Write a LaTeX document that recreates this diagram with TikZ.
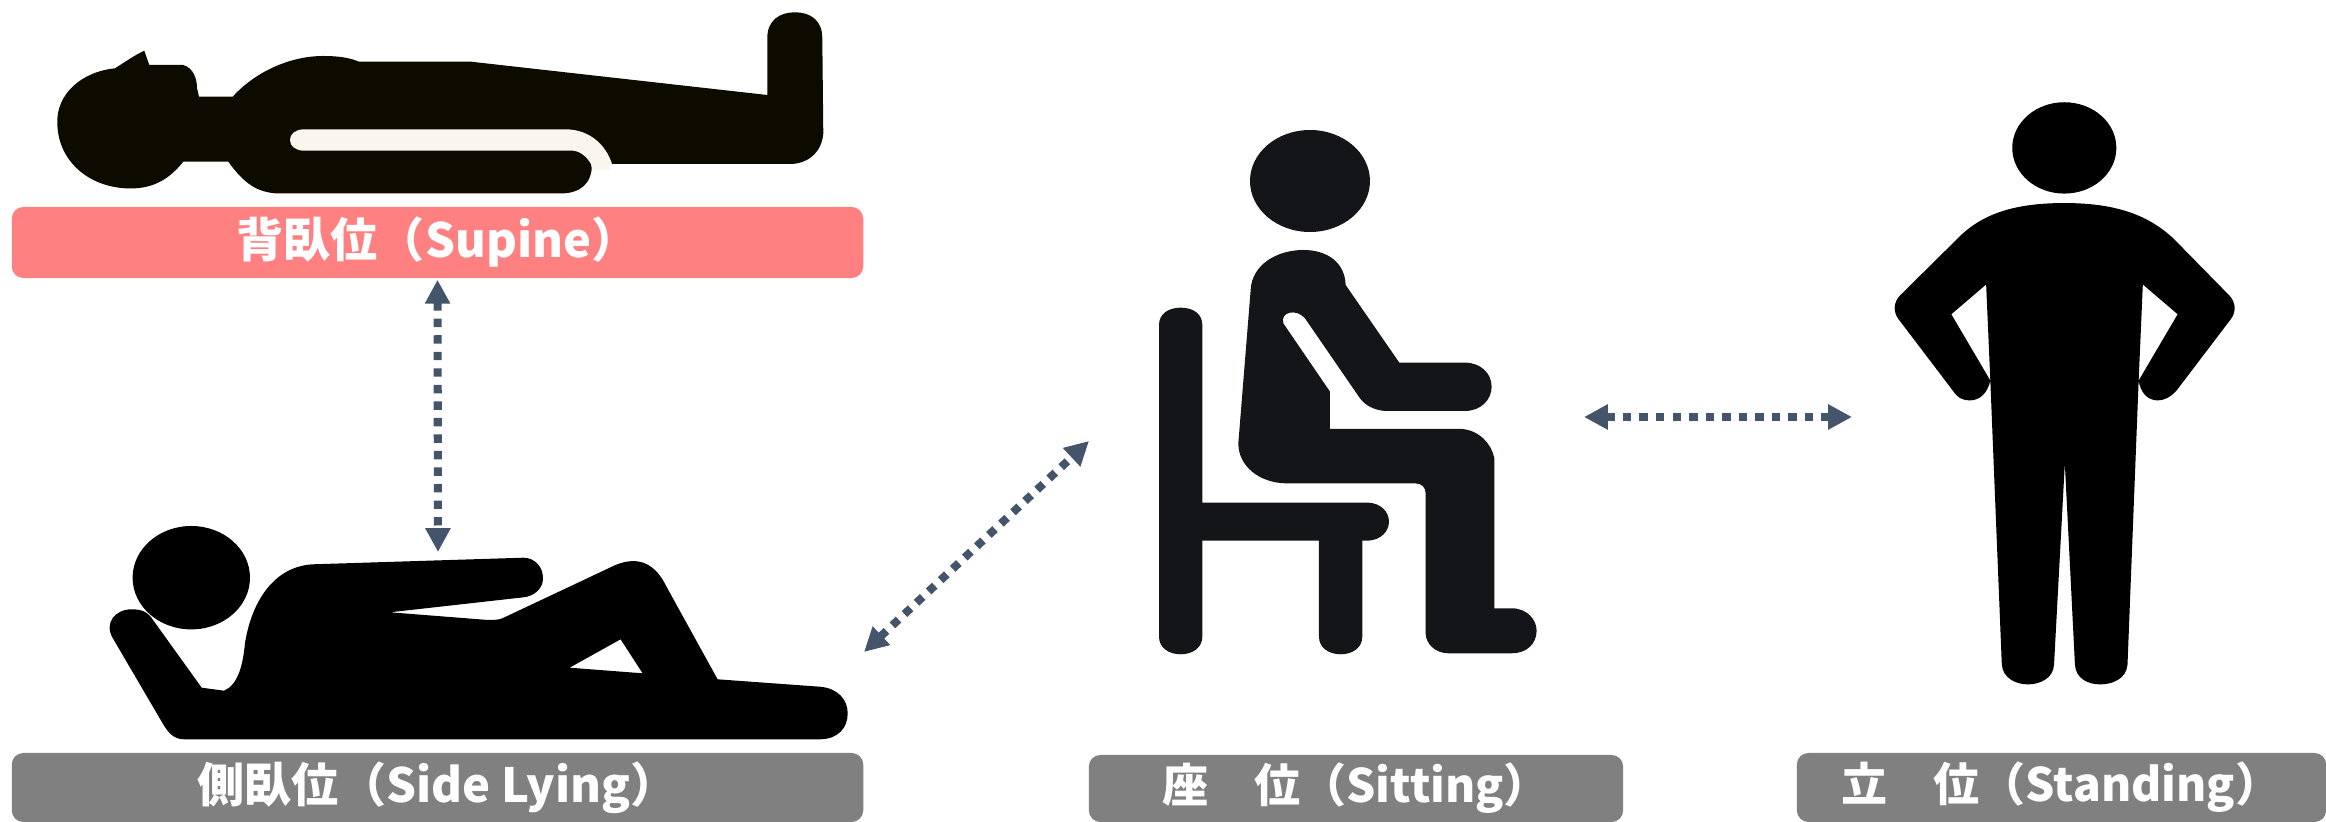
\documentclass[tikz,border=0pt]{standalone}
\usepackage{fontspec}
\usepackage{xcolor}
\usetikzlibrary{arrows.meta, positioning}
\newfontfamily\jpfont{Noto Sans CJK JP}
\definecolor{barpink}{HTML}{FF8080}
\definecolor{bargray}{HTML}{808080}
\definecolor{arrowblue}{HTML}{44546A}
\definecolor{figdark}{HTML}{0D0B00}
\definecolor{figsit}{HTML}{141518}
\definecolor{stripcol}{HTML}{FAF6EE}
\tikzset{
    posturebar/.style={fill=bargray, text=white, rounded corners=3.3pt, inner sep=0pt,
        font=\jpfont\bfseries\fontsize{13.1}{15}\selectfont},
    lyingbar/.style={posturebar, minimum width=8.51cm,
        font=\jpfont\bfseries\fontsize{13.4}{15}\selectfont},
    moveline/.style={<->, arrowblue, line width=2.3pt, dash pattern=on 2.4pt off 2.3pt}
}

\begin{document}
\begin{tikzpicture}[x=0.01cm, y=-0.01cm, >={Triangle[length=6.8pt, width=6.8pt]}]
    \useasboundingbox (0,0) rectangle (2326,822);

    % --- supine figure ---
    \fill[figdark] (144.3,50.7) -- (149.3,65) -- (183.3,65) .. controls (193,68) and (197,78) .. (197,88)
        -- (199,96.7) -- (232.7,96.7) .. controls (255,72) and (290,56) .. (323,56)
        .. controls (340,56) and (350,58) .. (359,61.7) -- (471,61.7) -- (767.3,95) -- (767.3,38)
        .. controls (767.3,20) and (780,12.3) .. (795,12.3) .. controls (810,12.3) and (822.3,20) .. (822.3,38)
        -- (823.3,133.3) .. controls (822,152) and (808,164) .. (790,164) -- (592,164)
        .. controls (592,184) and (580,193.5) .. (560,193.5) -- (276.7,193.5)
        .. controls (258,192) and (245,185) .. (228.3,161.7) -- (183.3,161.7)
        .. controls (170,178) and (155,188.5) .. (130,188.5)
        .. controls (88,188) and (57,160) .. (57.3,121.7)
        .. controls (57,95) and (80,72) .. (115,68.3)
        .. controls (125,62) and (135,55) .. (144.3,50.7) -- cycle;
    \fill[stripcol] (303,129.3) -- (566.7,129.3) .. controls (590,130) and (606,145) .. (612,164)
        -- (609,170) -- (592,170) -- (591,164) .. controls (587,157) and (580,151) .. (573,150.7)
        -- (303,150.7) .. controls (295,150) and (290,146) .. (290,140)
        .. controls (290,134) and (295,130) .. (303,129.3) -- cycle;

    % --- side lying figure ---
    \fill (191.3,577.7) ellipse [x radius=58.7, y radius=51.7];
    \fill[even odd rule] (112.7,638) .. controls (104,623) and (115,609.3) .. (131.7,609.3)
        .. controls (142,609.3) and (148,612) .. (153,620) -- (201.7,687.7) -- (224,690.7)
        .. controls (238,685) and (243,665) .. (245,643)
        .. controls (252,600) and (275,566) .. (313.3,564.3) -- (523.7,557.7)
        .. controls (535,558) and (543,567) .. (543,578.3)
        .. controls (543,588) and (535,596) .. (523.7,597.3) -- (390,612.3) -- (488,620)
        .. controls (495,620) and (500,620) .. (505.8,616.7) -- (615.5,565)
        .. controls (640,555) and (656,565) .. (666.5,586.7) -- (717.6,679.3) -- (819.6,686.7)
        .. controls (838,688) and (847.7,700) .. (847.7,713.3)
        .. controls (847.7,728) and (838,739.3) .. (819.6,739.3) -- (184,739.3)
        .. controls (174,739.3) and (168,733) .. (161.7,721.7) -- cycle
        (569.6,667.7) -- (620.6,639.3) -- (642.6,673.3) -- cycle;

    % --- sitting figure ---
    \begin{scope}[shift={(1140,240)}, scale=0.3333]
        \fill[figsit] (510,-177) ellipse [x radius=180, y radius=153];
        \fill[figsit] (332,150) .. controls (335,75) and (410,30) .. (490,30)
            .. controls (565,30) and (615,70) .. (617,135) -- (778,368) -- (975,368)
            .. controls (1022,368) and (1055,400) .. (1055,440)
            .. controls (1055,480) and (1022,513) .. (975,513) -- (735,513)
            .. controls (700,510) and (675,495) .. (660,475) -- (495,235)
            .. controls (470,205) and (420,215) .. (430,250) -- (570,455) -- (570,567) -- (965,567)
            .. controls (1015,570) and (1055,610) .. (1063,655) -- (1063,1105) -- (1115,1105)
            .. controls (1162,1105) and (1190,1140) .. (1190,1172)
            .. controls (1190,1210) and (1162,1240) .. (1115,1240) -- (925,1240)
            .. controls (885,1240) and (857,1210) .. (857,1180) -- (857,760)
            .. controls (857,742) and (845,730) .. (825,730) -- (435,730)
            .. controls (360,728) and (295,680) .. (295,610) -- cycle;
        % chair
        \fill[figsit] (57,255) .. controls (57,222) and (85,203) .. (122,203)
            .. controls (160,203) and (187,222) .. (187,255) -- (187,788) -- (685,788)
            .. controls (722,790) and (747,815) .. (747,845)
            .. controls (747,875) and (722,900) .. (685,902) -- (667,902) -- (667,1190)
            .. controls (667,1224) and (637,1243) .. (602,1243)
            .. controls (567,1243) and (537,1224) .. (537,1190) -- (537,902) -- (187,902) -- (187,1190)
            .. controls (187,1224) and (157,1243) .. (122,1243)
            .. controls (87,1243) and (57,1224) .. (57,1190) -- cycle;
    \end{scope}

    % --- standing figure ---
    \begin{scope}[shift={(1780,80)}, xscale=0.3482, yscale=0.4733]
        \fill (816.5,143.5) ellipse [x radius=149.5, y radius=96.5];
        \fill (816,260) .. controls (950,260) and (1050,280) .. (1130,335) -- (1290,455)
            .. controls (1310,470) and (1310,490) .. (1295,505) -- (1140,655)
            .. controls (1120,672) and (1100,677) .. (1085,677)
            .. controls (1055,677) and (1035,660) .. (1030,635) -- (1142,495) -- (1042,432) -- (1030,635)
            -- (998,1235) .. controls (995,1265) and (955,1277) .. (920,1277)
            .. controls (885,1277) and (849,1265) .. (847,1235) -- (818,810) -- (787,1235)
            .. controls (785,1265) and (745,1277) .. (712,1277)
            .. controls (680,1277) and (640,1265) .. (637,1235) -- (604,635) -- (592,432) -- (492,495) -- (604,635)
            .. controls (597,660) and (575,677) .. (545,677)
            .. controls (525,677) and (510,672) .. (495,655) -- (340,505)
            .. controls (325,490) and (325,470) .. (345,455) -- (510,335)
            .. controls (582,280) and (682,260) .. (816,260) -- cycle;
    \end{scope}

    % --- label bars ---
    \node[lyingbar, fill=barpink, minimum height=0.71cm] (supine) at (437.5,242.5) {背臥位（Supine）};
    \node[lyingbar, minimum height=0.69cm] (sidelying) at (437.5,787.5) {側臥位（Side Lying）};
    \node[posturebar, minimum width=5.34cm, minimum height=0.67cm] (sitting) at (1356,788.5) {座　位（Sitting）};
    \node[posturebar, minimum width=5.29cm, minimum height=0.69cm] (standing) at (2061.5,787.5) {立　位（Standing）};

    % --- movement arrows ---
    \coordinate (lyingtop) at (438,552);
    \coordinate (lyingright) at (864,652);
    \coordinate (sitleft) at (1089,441);
    \coordinate (sitright) at (1584,417);
    \coordinate (standleft) at (1852,417);
    \draw[moveline] ([yshift=-0.3pt]supine.south) -- (lyingtop);
    \draw[moveline] (lyingright) -- (sitleft);
    \draw[moveline] (sitright) -- (standleft);
\end{tikzpicture}
\end{document}
